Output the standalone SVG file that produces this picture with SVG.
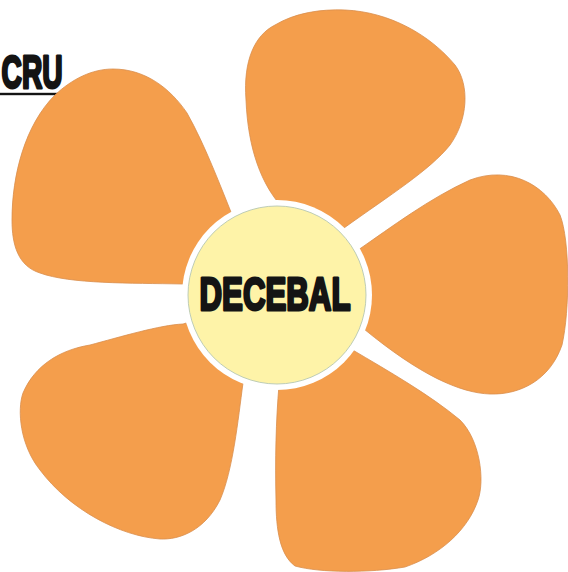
<svg xmlns="http://www.w3.org/2000/svg" width="568" height="572" viewBox="0 0 568 572">
  <style>
    .petal { fill: #F49E4C; stroke: #D98E4C; stroke-width: 0.8; }
    .ring { fill: #FFFFFF; }
    .core { fill: #FEF3A8; stroke: #B7C7B2; stroke-width: 0.9; }
    .lbl { font-family: "Liberation Sans Narrow", "Liberation Sans", "DejaVu Sans Condensed", sans-serif; font-weight: bold; fill: #141414; stroke: #141414; stroke-width: 3; stroke-linejoin: round; }
  </style>
  <rect x="0" y="0" width="568" height="572" fill="#FFFFFF"/>
  <g id="title">
    <text class="lbl" x="1.6" y="87.5" font-size="46" textLength="61" lengthAdjust="spacingAndGlyphs">CRU</text>
    <rect x="0" y="92.8" width="64" height="2.4" fill="#141414"/>
  </g>
  <g id="petal-upper-left">
    <path class="petal" d="M 183,284 C 130,283 70,284 40,273 C 18,266 12,245 12,220 C 12,175 25,125 55,95 C 72,79 92,69 113,69 C 145,69 170,88 187,113 C 205,145 220,185 235,222 L 262,290 Z"/>
  </g>
  <g id="petal-top">
    <path class="petal" d="M 282,207 C 262,185 248,150 246,100 C 243,60 255,35 275,25 C 295,13 320,9 345,10 C 390,12 430,35 455,65 C 470,85 468,120 450,145 C 430,170 390,195 344,228 L 290,280 Z"/>
  </g>
  <g id="petal-right">
    <path class="petal" d="M 300,290 L 361,248 C 390,228 430,198 470,180 C 510,165 545,185 560,215 C 570,240 570,310 562,345 C 550,380 520,395 490,394 C 460,393 420,375 364,329 Z"/>
  </g>
  <g id="petal-lower-right">
    <path class="petal" d="M 300,300 L 351,349 C 390,372 430,395 460,420 C 480,440 485,480 478,500 C 468,530 440,555 405,567 C 370,573 320,573 295,566 C 280,555 276,530 276,500 C 275,460 276,420 279,385 Z"/>
  </g>
  <g id="petal-lower-left">
    <path class="petal" d="M 260,300 L 243,383 C 238,420 233,470 220,500 C 205,530 180,540 160,539 C 120,536 70,510 40,470 C 20,445 17,410 23,393 C 35,365 60,350 90,345 C 120,337 160,325 183,324 Z"/>
  </g>
  <g id="center">
    <circle class="ring" cx="277" cy="295" r="95"/>
    <circle class="core" cx="277" cy="295" r="89"/>
    <text class="lbl" x="199.5" y="309.5" font-size="46" textLength="151" lengthAdjust="spacingAndGlyphs">DECEBAL</text>
  </g>
</svg>
